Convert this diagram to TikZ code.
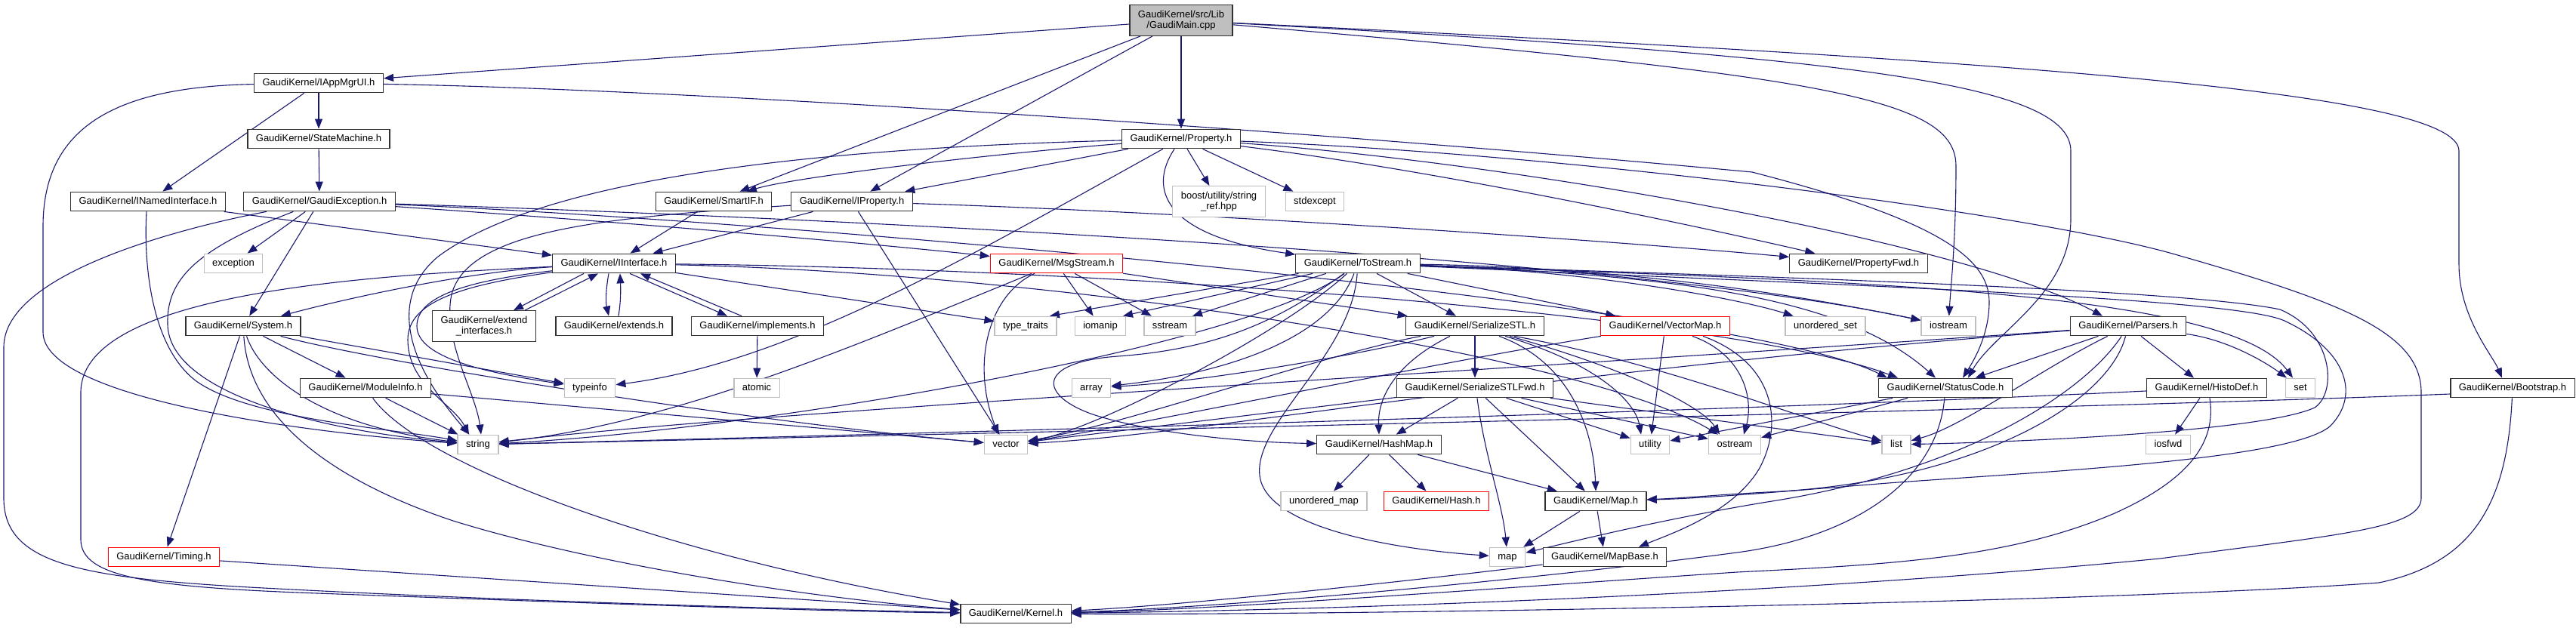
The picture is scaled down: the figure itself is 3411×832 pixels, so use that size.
\documentclass[tikz,border=0pt]{standalone}
\usepackage{fontspec}
\setmainfont{Liberation Sans}
\usetikzlibrary{arrows.meta}
\definecolor{edgeblue}{HTML}{191970}
\definecolor{sysgray}{HTML}{BFBFBF}
\definecolor{boxline}{HTML}{303030}
\pgfdeclarelayer{edgelayer}
\pgfsetlayers{edgelayer,main}
\begin{document}
\begin{tikzpicture}[x=1pt,y=-1pt,
  every node/.style={font=\fontsize{13}{14.5}\selectfont},
  hdr/.style={draw=boxline, line width=1.3pt, fill=white, inner xsep=11pt, inner ysep=0pt,
              minimum height=25.5pt, text height=9.5pt, text depth=3pt, align=center},
  sys/.style={hdr, draw=sysgray},
  trunc/.style={hdr, draw=red},
  twol/.style={minimum height=40.5pt, text height=, text depth=},
  rootnode/.style={hdr, twol, fill=sysgray},
  e/.style={draw=edgeblue, line width=1.1pt, -{Triangle[length=13pt,width=10pt]}}]
\useasboundingbox (0,0) rectangle (3411,832);

% ---------------- nodes ----------------
\node[rootnode] (root) at (1564,27) {GaudiKernel/src/Lib\\/GaudiMain.cpp};
\node[hdr] (iappmgrui) at (422,110) {GaudiKernel/IAppMgrUI.h};
\node[hdr] (statemachine) at (422,184) {GaudiKernel/StateMachine.h};
\node[hdr] (property) at (1564,184) {GaudiKernel/Property.h};
\node[hdr] (namedif) at (196,267) {GaudiKernel/INamedInterface.h};
\node[hdr] (gexc) at (423,267) {GaudiKernel/GaudiException.h};
\node[hdr] (smartif) at (945,267) {GaudiKernel/SmartIF.h};
\node[hdr] (iproperty) at (1128,267) {GaudiKernel/IProperty.h};
\node[sys,twol] (boost) at (1614,267) {boost/utility/string\\\_ref.hpp};
\node[sys] (stdexcept) at (1741,267) {stdexcept};
\node[sys] (exception) at (309,349) {exception};
\node[hdr] (iinterface) at (813,349) {GaudiKernel/IInterface.h};
\node[trunc] (msgstream) at (1399,349) {GaudiKernel/MsgStream.h};
\node[hdr] (tostream) at (1798,349) {GaudiKernel/ToStream.h};
\node[hdr] (propertyfwd) at (2461,349) {GaudiKernel/PropertyFwd.h};
\node[hdr] (system) at (322,432) {GaudiKernel/System.h};
\node[hdr,twol] (extendif) at (641,432) {GaudiKernel/extend\\\_interfaces.h};
\node[hdr] (extends) at (813,432) {GaudiKernel/extends.h};
\node[hdr] (implements) at (1003,432) {GaudiKernel/implements.h};
\node[sys] (typetraits) at (1358,432) {type\_traits};
\node[sys] (iomanip) at (1457,432) {iomanip};
\node[sys] (sstream) at (1549,432) {sstream};
\node[hdr] (serializestl) at (1953,432) {GaudiKernel/SerializeSTL.h};
\node[trunc] (vectormap) at (2205,432) {GaudiKernel/VectorMap.h};
\node[sys] (unorderedset) at (2417,432) {unordered\_set};
\node[sys] (iostream) at (2580,432) {iostream};
\node[hdr] (parsers) at (2818,432) {GaudiKernel/Parsers.h};
\node[hdr] (moduleinfo) at (484,514) {GaudiKernel/ModuleInfo.h};
\node[sys] (typeinfo) at (781,514) {typeinfo};
\node[sys] (atomic) at (1002,514) {atomic};
\node[sys] (array) at (1445,514) {array};
\node[hdr] (stlfwd) at (1953,514) {GaudiKernel/SerializeSTLFwd.h};
\node[hdr] (statuscode) at (2576,514) {GaudiKernel/StatusCode.h};
\node[hdr] (histodef) at (2922,514) {GaudiKernel/HistoDef.h};
\node[sys] (set) at (3046,514) {set};
\node[hdr] (bootstrap) at (3327,514) {GaudiKernel/Bootstrap.h};
\node[sys] (string) at (633,589) {string};
\node[sys] (vector) at (1332,589) {vector};
\node[hdr] (hashmap) at (1826,589) {GaudiKernel/HashMap.h};
\node[sys] (utility) at (2185,589) {utility};
\node[sys] (ostream) at (2297,589) {ostream};
\node[sys] (list) at (2511,589) {list};
\node[sys] (iosfwd) at (2871,589) {iosfwd};
\node[sys] (unorderedmap) at (1753,664) {unordered\_map};
\node[trunc] (hash) at (1902,664) {GaudiKernel/Hash.h};
\node[hdr] (map) at (2113,664) {GaudiKernel/Map.h};
\node[sys] (stdmap) at (1996,738) {map};
\node[hdr] (mapbase) at (2125,738) {GaudiKernel/MapBase.h};
\node[trunc] (timing) at (217,738) {GaudiKernel/Timing.h};
\node[hdr] (kernel) at (1345,813) {GaudiKernel/Kernel.h};

% ---------------- edges ----------------
\begin{pgfonlayer}{edgelayer}
% root
\draw[e] (root) -- (iappmgrui);
\draw[e] (root) -- (property);
\draw[e] (root) -- (smartif);
\draw[e] (root) -- (iproperty);
\draw[e] (root) .. controls (2420,100) and (2590,130) .. (2590,220) .. controls (2590,320) and (2583,380) .. (iostream);
\draw[e] (root) .. controls (2450,75) and (2742,110) .. (2742,200) -- (2742,290) .. controls (2742,390) and (2640,440) .. ([xshift=30pt]statuscode.north);
\draw[e] (root) .. controls (2650,80) and (3256,120) .. (3256,200) -- (3256,350) .. controls (3256,420) and (3300,470) .. ([xshift=-14pt]bootstrap.north);
% IAppMgrUI
\draw[e] (iappmgrui) -- (statemachine);
\draw[e] (iappmgrui) -- (namedif);
\draw[e] (iappmgrui) .. controls (150,115) and (57,170) .. (57,300) -- (57,440) .. controls (57,530) and (420,575) .. (string);
\draw[e] (iappmgrui) .. controls (900,118) and (1700,170) .. (2320,228) .. controls (2560,290) and (2634,340) .. (2634,400) .. controls (2634,445) and (2612,480) .. ([xshift=23pt]statuscode.north);
\draw[e] (statemachine) -- (gexc);
% INamedInterface
\draw[e] (namedif) -- (iinterface);
\draw[e] ([xshift=-2pt]namedif.south) .. controls (190,350) and (200,460) .. (260,505) .. controls (330,555) and (520,568) .. (string);
% GaudiException
\draw[e] (gexc) -- (exception);
\draw[e] (gexc) -- (system);
\draw[e] (gexc) .. controls (250,300) and (5,360) .. (5,460) -- (5,660) .. controls (5,745) and (100,765) .. (330,778) .. controls (700,798) and (1100,808) .. (kernel);
\draw[e] (gexc) .. controls (260,330) and (220,370) .. (222,430) .. controls (224,520) and (420,570) .. (string);
\draw[e] (gexc) .. controls (900,282) and (2100,330) .. (iostream);
\draw[e] (gexc) .. controls (1000,290) and (2300,400) .. ([xshift=-77pt]statuscode.north);
\draw[e] (gexc) .. controls (800,292) and (1150,322) .. (msgstream);
% System
\draw[e] (system) -- (timing);
\draw[e] (system) -- (moduleinfo);
\draw[e] (system) .. controls (330,560) and (450,640) .. (600,690) .. controls (800,752) and (1100,795) .. (kernel);
\draw[e] (system) .. controls (345,500) and (430,565) .. (string);
\draw[e] (system) -- (typeinfo);
\draw[e] (system) .. controls (500,480) and (1000,560) .. (vector);
% ModuleInfo, Timing
\draw[e] (moduleinfo) -- (string);
\draw[e] (moduleinfo) -- (vector);
\draw[e] (moduleinfo) .. controls (560,620) and (900,740) .. (kernel);
\draw[e] (timing) -- (kernel);
% SmartIF, IProperty
\draw[e] (smartif) -- (iinterface);
\draw[e] (iproperty) -- (iinterface);
\draw[e] (iproperty) .. controls (800,288) and (620,305) .. (598,390) .. controls (585,450) and (630,520) .. ([xshift=4pt]string.north);
\draw[e] (iproperty) -- (vector);
\draw[e] (iproperty) .. controls (1600,282) and (2150,320) .. (propertyfwd);
% IInterface
\draw[e] ([xshift=-40pt]iinterface.south) -- ([xshift=39pt]extendif.north);
\draw[e] ([xshift=54pt]extendif.north) -- ([xshift=-21pt]iinterface.south);
\draw[e] ([xshift=-7pt]iinterface.south) .. controls (802,385) and (802,400) .. ([xshift=-7pt]extends.north);
\draw[e] ([xshift=6pt]extends.north) .. controls (822,400) and (822,385) .. ([xshift=8pt]iinterface.south);
\draw[e] ([xshift=21pt]iinterface.south) -- ([xshift=-40pt]implements.north);
\draw[e] ([xshift=-21pt]implements.north) -- ([xshift=35pt]iinterface.south);
\draw[e] (implements) -- (atomic);
\draw[e] (iinterface) .. controls (620,360) and (460,395) .. (system);
\draw[e] (iinterface) .. controls (620,372) and (552,392) .. (552,432) .. controls (552,475) and (650,495) .. (typeinfo);
\draw[e] (iinterface) .. controls (610,378) and (540,400) .. (540,450) .. controls (540,510) and (600,535) .. ([xshift=-12pt]string.north);
\draw[e] (iinterface) .. controls (500,365) and (107,385) .. (107,520) -- (107,715) .. controls (107,765) and (200,778) .. (420,786) .. controls (800,800) and (1100,810) .. (kernel);
\draw[e] (iinterface) -- (typetraits);
\draw[e] (iinterface) .. controls (1400,362) and (2100,470) .. (ostream);
\draw[e] (iinterface) .. controls (1500,356) and (2300,420) .. ([xshift=-63pt]statuscode.north);
% Property
\draw[e] (property) .. controls (1300,205) and (1050,235) .. (smartif);
\draw[e] (property) -- (iproperty);
\draw[e] (property) .. controls (1000,198) and (700,250) .. (580,340) .. controls (520,390) and (530,470) .. (string);
\draw[e] (property) .. controls (1300,330) and (1050,480) .. (typeinfo);
\draw[e] (property) .. controls (1520,250) and (1540,312) .. (tostream);
\draw[e] (property) -- (boost);
\draw[e] (property) -- (stdexcept);
\draw[e] (property) .. controls (1900,225) and (2250,300) .. (propertyfwd);
\draw[e] (property) .. controls (2000,215) and (2600,320) .. ([xshift=-34pt]parsers.north);
\draw[e] (property) .. controls (2100,205) and (2700,285) .. (2880,337) .. controls (3100,400) and (3206,440) .. (3206,520) -- (3206,660) .. controls (3206,700) and (3100,708) .. (2860,740) .. controls (2400,785) and (1800,808) .. (kernel);
% MsgStream
\draw[e] (msgstream) .. controls (1310,390) and (1285,480) .. ([xshift=-10pt]vector.north);
\draw[e] (msgstream) .. controls (1150,450) and (900,560) .. (string);
\draw[e] (msgstream) -- (iomanip);
\draw[e] (msgstream) -- (sstream);
\draw[e] (msgstream) -- (serializestl);
% ToStream
\draw[e] (tostream) -- ([xshift=32pt]typetraits.north);
\draw[e] (tostream) -- ([xshift=30pt]iomanip.north);
\draw[e] (tostream) -- ([xshift=30pt]sstream.north);
\draw[e] (tostream) .. controls (1700,420) and (1620,462) .. (1480,472) .. controls (1370,480) and (1375,525) .. (1450,550) .. controls (1530,575) and (1650,586) .. (hashmap);
\draw[e] (tostream) .. controls (1700,440) and (1450,570) .. (vector);
\draw[e] (tostream) .. controls (1760,450) and (1620,495) .. (array);
\draw[e] (tostream) .. controls (1650,460) and (1000,570) .. (string);
\draw[e] (tostream) -- (serializestl);
\draw[e] (tostream) -- (vectormap);
\draw[e] (tostream) .. controls (1790,470) and (1660,560) .. (1668,630) .. controls (1676,700) and (1850,728) .. (stdmap);
\draw[e] (tostream) .. controls (2100,358) and (2300,395) .. (unorderedset);
\draw[e] (tostream) .. controls (2200,355) and (2450,405) .. (iostream);
\draw[e] (tostream) .. controls (2250,365) and (2450,400) .. ([xshift=-13pt]statuscode.north);
\draw[e] (tostream) .. controls (2400,368) and (2900,385) .. (3019,410) .. controls (3090,440) and (3095,520) .. (3065,540) .. controls (3000,570) and (2700,585) .. (list);
\draw[e] (tostream) .. controls (2450,372) and (2950,385) .. (set);
\draw[e] (tostream) .. controls (2450,378) and (2960,395) .. (3025,425) .. controls (3110,465) and (3125,525) .. (3085,565) .. controls (3030,610) and (2700,625) .. (2500,640) .. controls (2350,652) and (2260,660) .. (map);
% SerializeSTL
\draw[e] (serializestl) -- (stlfwd);
\draw[e] ([xshift=-33pt]serializestl.south) .. controls (1850,480) and (1824,525) .. (hashmap.north);
\draw[e] ([xshift=32pt]serializestl.south) .. controls (2080,480) and (2110,570) .. (map.north);
\draw[e] ([xshift=40pt]serializestl.south) .. controls (2110,480) and (2165,530) .. ([xshift=-12pt]utility.north);
\draw[e] ([xshift=46pt]serializestl.south) .. controls (2160,490) and (2255,540) .. ([xshift=-20pt]ostream.north);
\draw[e] ([xshift=52pt]serializestl.south) .. controls (2200,480) and (2400,560) .. (list);
\draw[e] (serializestl) .. controls (1750,470) and (1500,560) .. (vector);
\draw[e] (serializestl) .. controls (1800,470) and (1600,505) .. (array);
% SerializeSTLFwd
\draw[e] (stlfwd) -- (hashmap);
\draw[e] ([xshift=3pt]stlfwd.south) .. controls (1965,600) and (1990,670) .. (stdmap);
\draw[e] (stlfwd) -- (map);
\draw[e] (stlfwd) -- (utility);
\draw[e] (stlfwd) -- (ostream);
\draw[e] (stlfwd) -- (list);
\draw[e] (stlfwd) -- (vector);
% HashMap, Map, MapBase
\draw[e] (hashmap) -- (unorderedmap);
\draw[e] (hashmap) -- (hash);
\draw[e] (hashmap) -- (map);
\draw[e] (map) -- (stdmap);
\draw[e] (map) -- (mapbase);
\draw[e] ([yshift=-10pt]mapbase.west) .. controls (1950,760) and (1600,800) .. (kernel);
% VectorMap
\draw[e] (vectormap) .. controls (1900,480) and (1500,565) .. (vector);
\draw[e] (vectormap) -- (utility);
\draw[e] ([xshift=36pt]vectormap.south) .. controls (2310,470) and (2322,530) .. ([xshift=12pt]ostream.north);
\draw[e] ([xshift=50pt]vectormap.south) .. controls (2350,480) and (2362,560) .. (2330,620) .. controls (2295,680) and (2210,708) .. ([xshift=45pt]mapbase.north);
% StatusCode
\draw[e] (statuscode) -- (ostream);
\draw[e] (statuscode) -- (utility);
\draw[e] (statuscode) .. controls (2565,640) and (2450,712) .. (2300,732) .. controls (2000,772) and (1600,806) .. (kernel);
% Parsers
\draw[e] (parsers) .. controls (2000,490) and (1000,545) .. (string);
\draw[e] (parsers) .. controls (2000,495) and (1600,575) .. (vector);
\draw[e] (parsers) -- (statuscode);
\draw[e] (parsers) .. controls (2760,520) and (2600,625) .. (2340,665) .. controls (2200,688) and (2080,718) .. (stdmap);
\draw[e] (parsers) .. controls (2790,540) and (2600,640) .. (2340,652) .. controls (2280,655) and (2230,660) .. (map);
\draw[e] (parsers) .. controls (2700,490) and (2600,565) .. (list);
\draw[e] (parsers) .. controls (2950,450) and (3000,480) .. (set);
\draw[e] (parsers) -- (histodef);
% HistoDef
\draw[e] (histodef) -- (iosfwd);
\draw[e] (histodef) .. controls (2300,545) and (1200,575) .. (string);
\draw[e] ([xshift=4pt]histodef.south) .. controls (2935,585) and (2900,635) .. (2800,680) .. controls (2660,740) and (2500,748) .. (2300,758) .. controls (1900,785) and (1600,808) .. (kernel);
% Bootstrap
\draw[e] ([yshift=-8pt]bootstrap.west) .. controls (2800,540) and (1500,570) .. (string);
\draw[e] (bootstrap) .. controls (3320,660) and (3280,745) .. (3150,772) .. controls (2800,798) and (1800,815) .. (kernel);
\end{pgfonlayer}
\end{tikzpicture}
\end{document}
